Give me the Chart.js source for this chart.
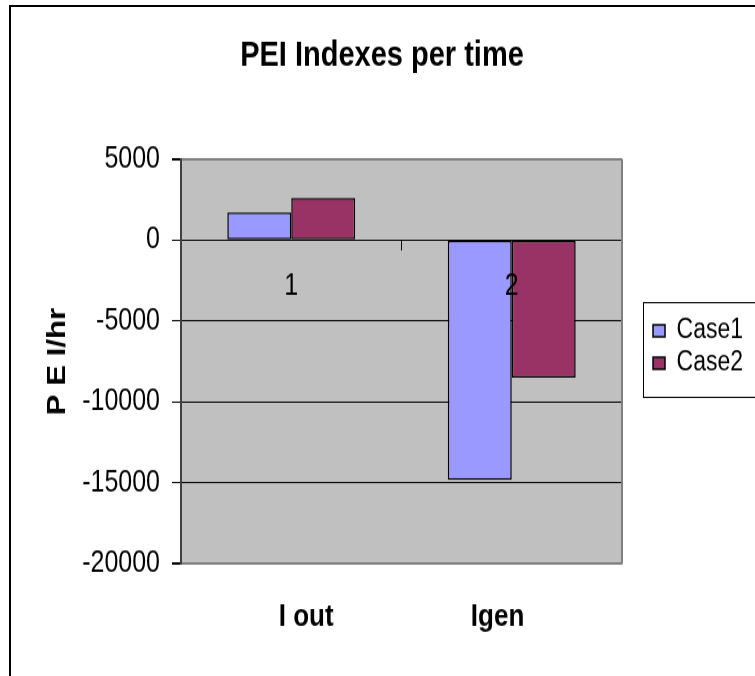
<!DOCTYPE html>
<html>
<head>
<meta charset="utf-8">
<script src="https://cdn.jsdelivr.net/npm/chart.js@4"></script>
<style>
  html, body { margin: 0; padding: 0; background: #fff; overflow: hidden; }
  #frame { position: absolute; left: 9px; top: 5px; border-left: 2px solid #000; border-top: 2px solid #000; }
</style>
</head>
<body>
<!-- the original sheet chart has tall, condensed lettering: draw at 745x567 and show it 20% taller -->
<div id="frame"><canvas id="pei_chart" width="745" height="567" style="display:block;width:745px;height:680px"></canvas></div>
<script>
const categories = ["1", "2"];
const axisWords = ["I out", "Igen"];
const case1 = [1700, -14800];
const case2 = [2600, -8500];
const yMin = -20000;
const yMax = 5000;
const yStep = 5000;

const FONT = "'Liberation Sans', Arial, sans-serif";
const PLOT_RIGHT = 611;
const PLOT_BOTTOM = 464.4;
const RIGHT_PAD = 3;

// gray plot background, right border and the legend frame
const plotBox = {
  id: "plotBox",
  beforeDraw(chart) {
    const a = chart.chartArea;
    const c = chart.ctx;
    c.save();
    c.fillStyle = "#c0c0c0";
    c.fillRect(a.left, a.top, a.right - a.left, a.bottom - a.top);
    c.restore();
  },
  afterDraw(chart) {
    const a = chart.chartArea;
    const c = chart.ctx;
    c.save();
    c.strokeStyle = "#808080";
    c.lineWidth = 2;
    c.beginPath();
    c.moveTo(a.right, a.top);
    c.lineTo(a.right, a.bottom);
    c.stroke();
    const hb = chart.legend.legendHitBoxes;
    if (hb && hb.length) {
      const first = hb[0];
      const last = hb[hb.length - 1];
      const top = first.top - 12;
      const bottom = last.top + last.height + 17;
      c.strokeStyle = "#000";
      c.lineWidth = 1;
      c.strokeRect(Math.round(first.left - 10) + 0.5, top, 300, bottom - top);
    }
    c.restore();
  },
};

const ctx = document.getElementById("pei_chart");

new Chart(ctx, {
  type: "bar",
  data: {
    labels: categories,
    datasets: [
      {
        label: "Case1",
        data: case1,
        backgroundColor: "#9999ff",
        borderColor: "#000",
        borderWidth: 1.5,
        borderSkipped: false,
      },
      {
        label: "Case2",
        data: case2,
        backgroundColor: "#993366",
        borderColor: "#000",
        borderWidth: 1.5,
        borderSkipped: false,
      },
    ],
  },
  options: {
    responsive: false,
    animation: false,
    layout: { padding: { left: 0, top: 0, bottom: 0, right: RIGHT_PAD } },
    datasets: {
      bar: { categoryPercentage: 0.58, barPercentage: 1 },
    },
    scales: {
      x: {
        position: { y: 0 },
        grid: { drawOnChartArea: false, tickLength: 8, tickColor: "#000", lineWidth: 1 },
        border: { color: "#000", width: 1 },
        ticks: { z: 1, padding: 16, color: "#000", font: { family: FONT, size: 25 } },
      },
      x2: {
        type: "category",
        labels: categories,
        position: "bottom",
        grid: { display: false },
        border: { display: false },
        ticks: { display: false },
        title: {
          display: true,
          text: axisWords.join(" ".repeat(19)),
          color: "#000",
          font: { family: FONT, size: 26, weight: "bold" },
          padding: { top: 0, bottom: 43 },
        },
        afterFit(s) {
          s.height = s.chart.height - PLOT_BOTTOM;
        },
      },
      y: {
        min: yMin,
        max: yMax,
        ticks: {
          stepSize: yStep,
          padding: 12,
          color: "#000",
          font: { family: FONT, size: 25 },
          callback: (v) => String(v),
        },
        grid: {
          color: (c) => (c.tick && (c.tick.value === yMax || c.tick.value === yMin) ? "#808080" : "#000"),
          lineWidth: (c) => (c.tick && (c.tick.value === yMax || c.tick.value === yMin) ? 2 : 1),
          tickLength: 9,
          tickColor: "#000",
        },
        border: { color: "#404040", width: 2 },
        title: {
          display: true,
          text: "P E I/hr",
          color: "#000",
          font: { family: FONT, size: 26, weight: "bold" },
          padding: { top: 31, bottom: 0 },
        },
        afterFit(s) {
          s.width = 170;
        },
      },
      gap: {
        type: "linear",
        position: "right",
        ticks: { display: false },
        grid: { display: false },
        border: { display: false },
        afterFit(s) {
          const lw = s.chart.legend ? s.chart.legend.width : 0;
          s.width = Math.max(0, s.chart.width - RIGHT_PAD - PLOT_RIGHT - lw);
        },
      },
    },
    plugins: {
      title: {
        display: true,
        text: "PEI Indexes per time",
        color: "#000",
        font: { family: FONT, size: 29, weight: "bold" },
        padding: { top: 24, bottom: 68 },
      },
      legend: {
        position: "right",
        align: "center",
        labels: {
          boxWidth: 12,
          boxHeight: 10,
          padding: 4,
          color: "#000",
          font: { family: FONT, size: 23 },
        },
      },
      tooltip: { enabled: false },
    },
  },
  plugins: [plotBox],
});
</script>
</body>
</html>
